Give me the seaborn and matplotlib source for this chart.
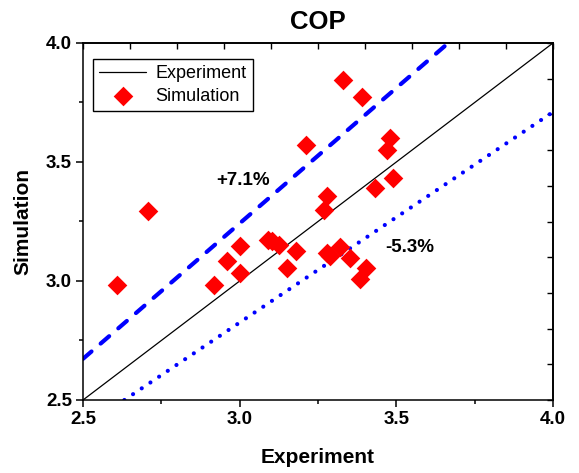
import numpy as np
import pandas as pd
import matplotlib
matplotlib.use("Agg")
import matplotlib.pyplot as plt
import seaborn as sns

# ---- data ----
experiment = [2.610, 2.708, 2.919, 2.960, 3.002, 3.002, 3.089, 3.103, 3.124, 3.151,
              3.181, 3.211, 3.269, 3.280, 3.280, 3.287, 3.320, 3.331, 3.352, 3.384,
              3.391, 3.402, 3.431, 3.470, 3.481, 3.490]
simulation = [2.982, 3.293, 2.982, 3.083, 3.145, 3.035, 3.173, 3.169, 3.150, 3.055,
              3.128, 3.572, 3.298, 3.358, 3.118, 3.105, 3.142, 3.844, 3.097, 3.010,
              3.775, 3.055, 3.389, 3.551, 3.600, 3.434]

ideal_x = [2.5, 4.0]
ideal_y = [2.5, 4.0]
upper_x = [2.5, 3.666]
upper_y = [2.673, 4.0]
lower_x = [2.632, 4.0]
lower_y = [2.5, 3.71]

upper_label = "+7.1%"
lower_label = "-5.3%"
upper_label_pos = (3.01, 3.424)
lower_label_pos = (3.542, 3.139)

xticks = [2.5, 3.0, 3.5, 4.0]
yticks = [2.5, 3.0, 3.5, 4.0]

df = pd.DataFrame({"Experiment": experiment, "Simulation": simulation})

# ---- plot ----
sns.set_theme(style="ticks")
plt.rcParams["font.family"] = ["Liberation Sans", "DejaVu Sans"]
plt.rcParams.update({"text.color": "black", "axes.labelcolor": "black",
                     "xtick.color": "black", "ytick.color": "black",
                     "axes.edgecolor": "black"})

fig = plt.figure(figsize=(5.79, 4.73), dpi=100)
ax = fig.add_axes([83 / 579, 1 - 400 / 473, 470 / 579, 357 / 473])

ax.plot(ideal_x, ideal_y, color="black", lw=0.9, label="Experiment", zorder=2)
ax.plot(upper_x, upper_y, color="#0000ff", lw=3.0, linestyle=(0, (2.7, 2.9)),
        dash_capstyle="round", zorder=2)
ax.plot(lower_x, lower_y, color="#0000ff", lw=3.0, linestyle=(0, (0.01, 2.5)),
        dash_capstyle="round", zorder=2)

sns.scatterplot(data=df, x="Experiment", y="Simulation", marker="D", s=100,
                color="#ff0000", linewidth=0, ax=ax, label="Simulation", zorder=3)

ax.text(*upper_label_pos, upper_label, fontsize=13.5, fontweight="bold",
        ha="center", va="center")
ax.text(*lower_label_pos, lower_label, fontsize=13.5, fontweight="bold",
        ha="center", va="center")

ax.set_xlim(2.5, 4.0)
ax.set_ylim(2.5, 4.0)
ax.set_xticks(xticks)
ax.set_yticks(yticks)
ax.set_xticklabels([f"{v:.1f}" for v in xticks])
ax.set_yticklabels([f"{v:.1f}" for v in yticks])
ax.set_xticks(np.arange(2.75, 4.0, 0.5), minor=True)
ax.set_yticks(np.arange(2.75, 4.0, 0.5), minor=True)
ax.tick_params(which="major", direction="out", length=5, width=1.1, labelsize=13.5,
               colors="black", pad=3)
ax.tick_params(which="minor", direction="out", length=3, width=1.1)
for lab in ax.get_xticklabels() + ax.get_yticklabels():
    lab.set_fontweight("bold")

for sp in ax.spines.values():
    sp.set_visible(True)
    sp.set_linewidth(1.1)
    sp.set_color("black")

# inward ticks on top and right
top = ax.secondary_xaxis("top")
top.set_xticks(np.arange(2.5, 4.001, 0.15))
top.tick_params(direction="in", length=4, width=1.0, labeltop=False)
right = ax.secondary_yaxis("right")
right.set_yticks(np.arange(2.5, 4.001, 0.15))
right.tick_params(direction="in", length=4, width=1.0, labelright=False)

ax.set_xlabel("Experiment", fontsize=15, fontweight="bold", labelpad=14)
ax.set_ylabel("Simulation", fontsize=15, fontweight="bold", labelpad=10)
ax.set_title("COP", fontsize=18.5, fontweight="bold", pad=10)

leg = ax.legend(loc="upper left", fontsize=13, frameon=True, fancybox=False,
                edgecolor="black", framealpha=1, handlelength=2.6,
                borderpad=0.35, labelspacing=0.3, handletextpad=0.5,
                borderaxespad=0, bbox_to_anchor=(10 / 470, 1 - 16 / 357))
leg.get_frame().set_linewidth(1.0)

fig.savefig("out.png", dpi=100)
